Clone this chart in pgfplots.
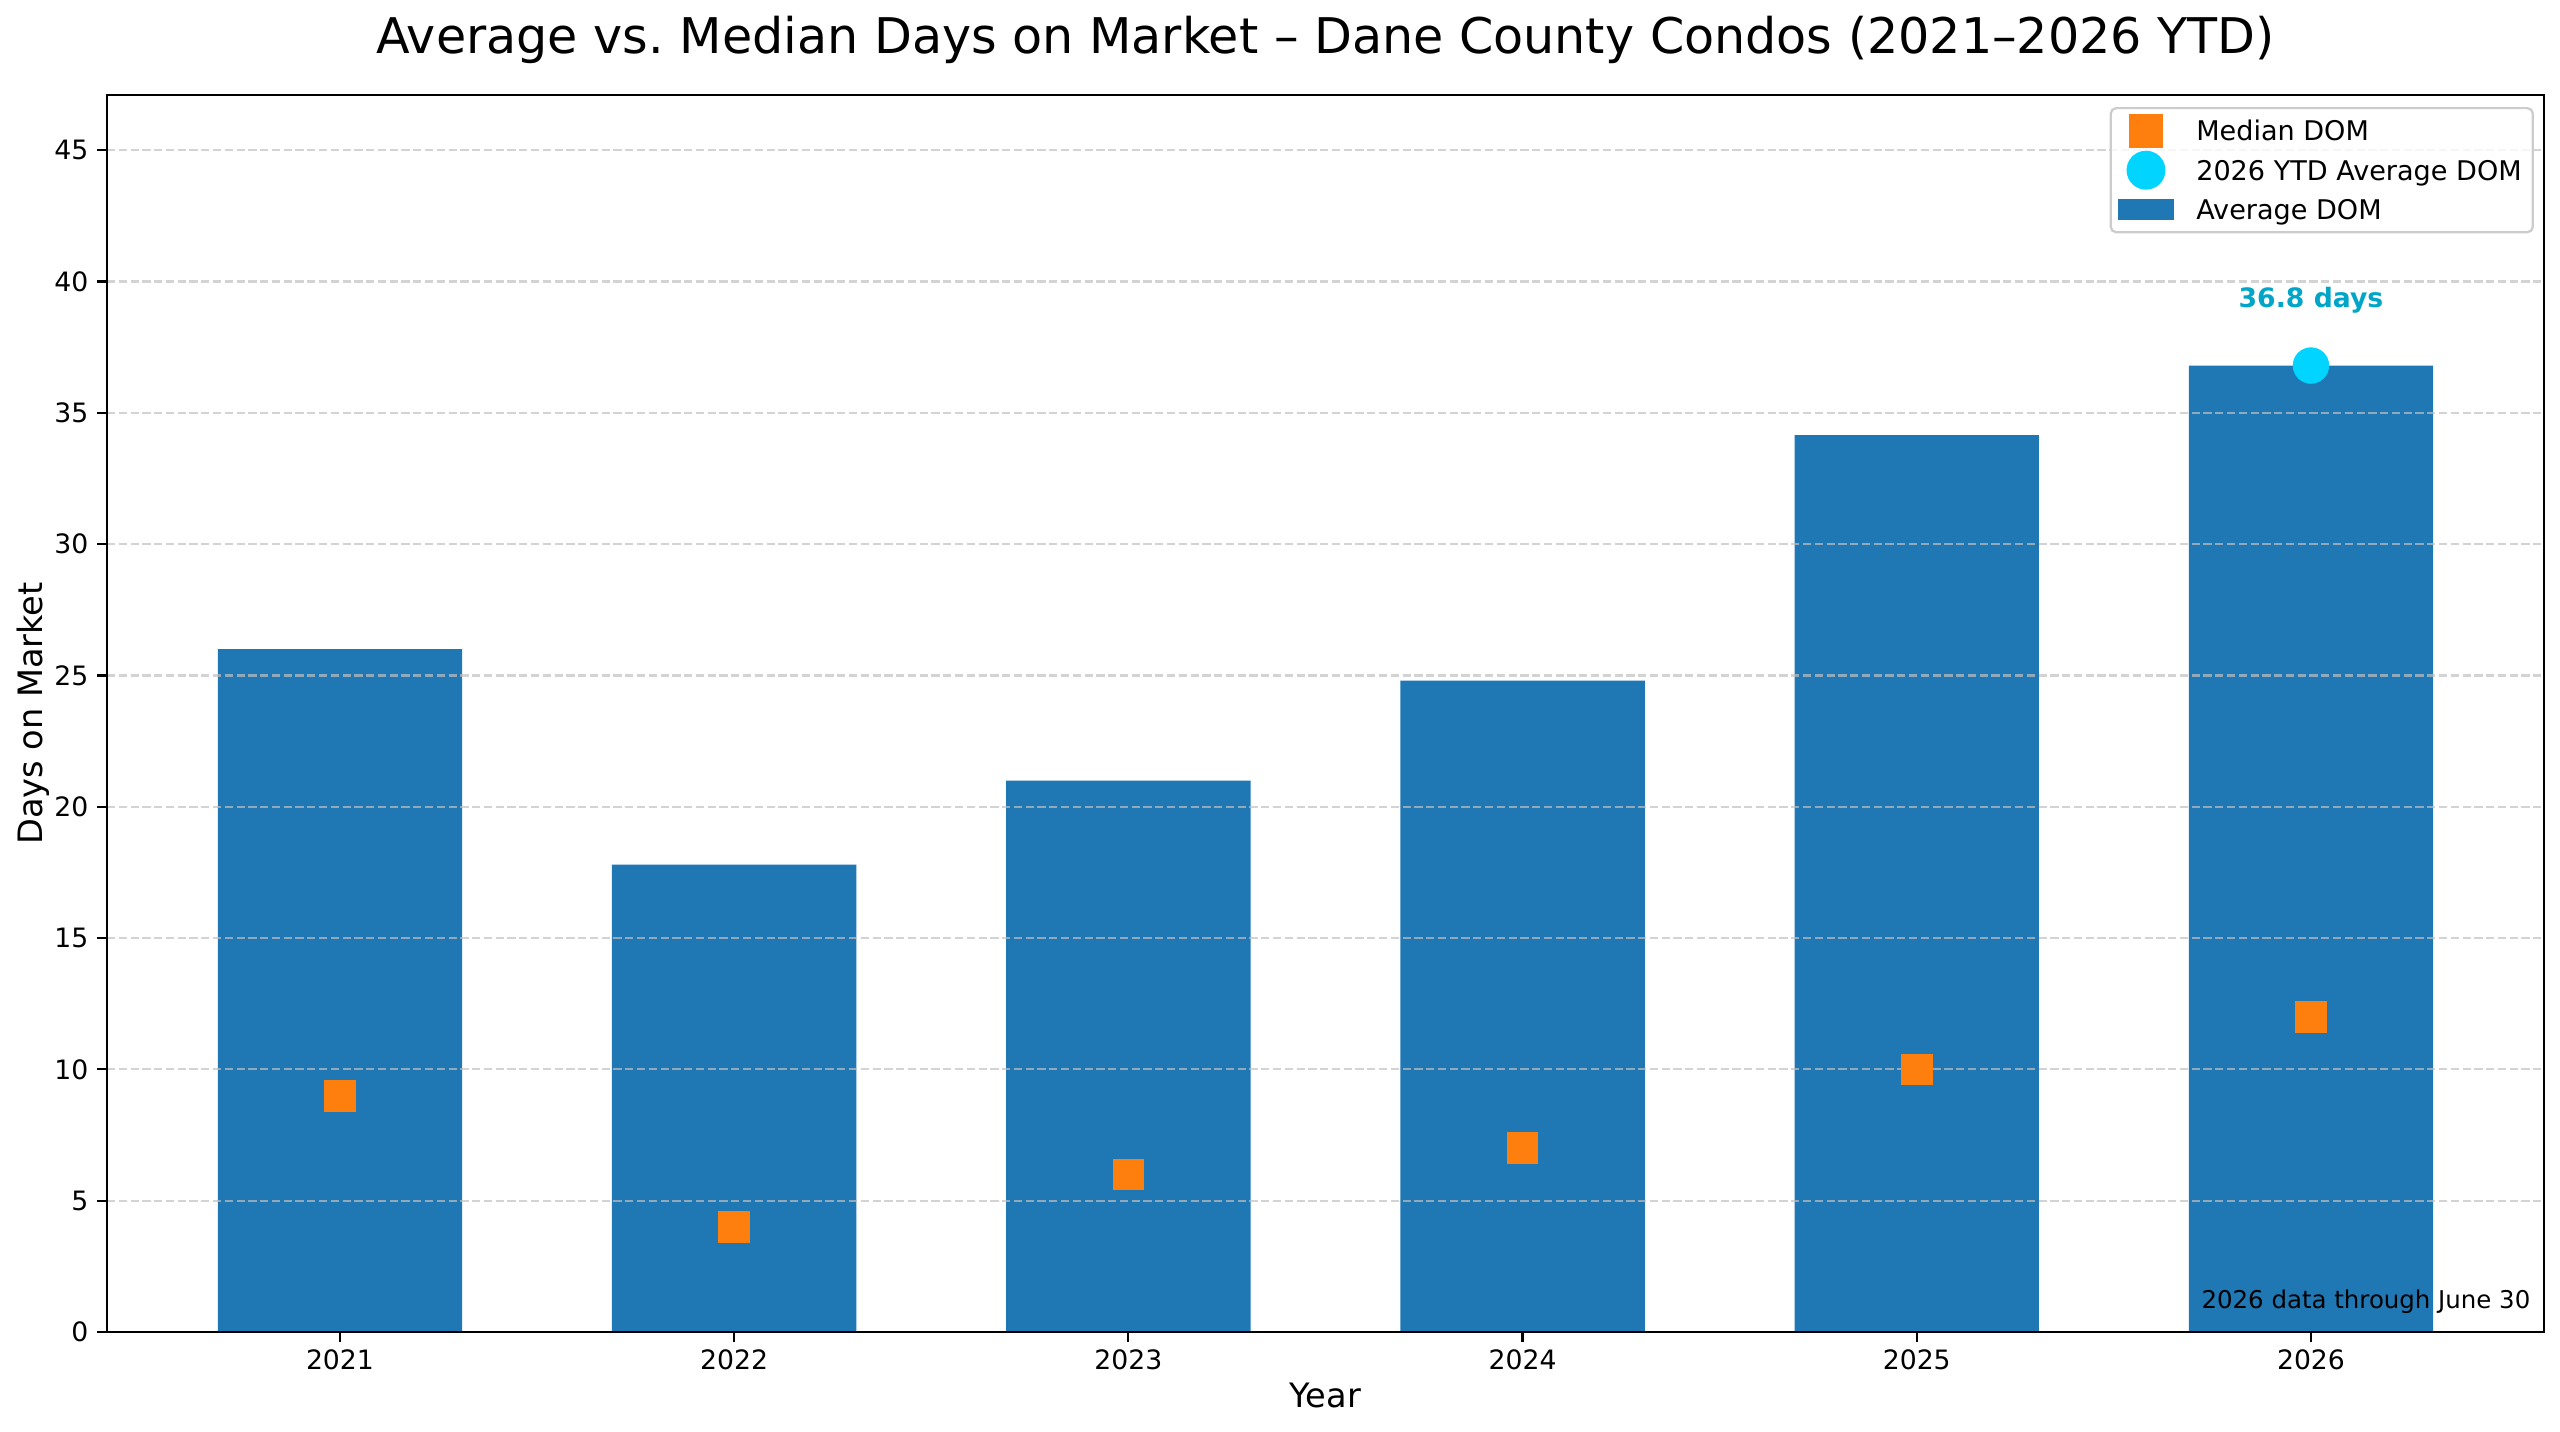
\documentclass[border=0pt]{standalone}
\usepackage{pgfplots}
\pgfplotsset{compat=1.18}
\usepackage{fontspec}
\setmainfont{DejaVu Sans}
\definecolor{barblue}{HTML}{1F77B4}
\definecolor{medorange}{HTML}{FF7F0E}
\definecolor{ytdcyan}{HTML}{00D4FF}
\definecolor{anncyan}{HTML}{00A5C8}
\definecolor{gridgray}{HTML}{C0C0C0}
\definecolor{legframe}{HTML}{CCCCCC}

\begin{document}
\begin{tikzpicture}
\begin{axis}[
  set layers=standard,
  at={(0,0)}, anchor=south west,
  scale only axis, width=877.3pt, height=445.3pt,
  xmin=-0.591, xmax=5.591, ymin=0, ymax=47.1,
  xtick={0,1,2,3,4,5},
  xticklabels={2021,2022,2023,2024,2025,2026},
  ytick={0,5,...,45},
  tick align=outside, xtick pos=bottom, ytick pos=left,
  major tick length=3.5pt,
  tick style={black, line width=0.8pt},
  axis line style={line width=0.8pt},
  ymajorgrids,
  major grid style={gridgray, opacity=0.7, dash pattern=on 2.96pt off 1.28pt, line width=0.8pt},
  /pgf/number format/assume math mode=true,
  ticklabel style={font=\fontsize{9.6}{11}\selectfont},
  xticklabel style={inner sep=0pt, anchor=north, yshift=-2.6pt},
  yticklabel style={inner sep=0pt, anchor=east, xshift=-3pt},
  clip=false,
  legend style={at={(1,1)}, anchor=north east, xshift=-3.6pt, yshift=-4.3pt,
    draw=legframe, line width=0.8pt, rounded corners=2pt, fill=white, fill opacity=0.8,
    draw opacity=1, text opacity=1,
    font=\fontsize{9.75}{11}\selectfont, inner xsep=3pt, inner ysep=2.1pt,
    row sep=2.1pt, column sep=7.4pt,
    nodes={inner sep=1pt, text height=8.6pt, text depth=1.5pt, anchor=west}},
  legend cell align=left,
]
\addplot[ybar, bar width=0.62, fill=barblue, draw=none, forget plot, on layer=axis background]
  coordinates {(0,26.0) (1,17.8) (2,21.0) (3,24.8) (4,34.15) (5,36.8)};
\addplot[only marks, mark=square*, mark size=5.5pt,
  mark options={fill=medorange, draw=medorange, line width=0.3pt}, forget plot]
  coordinates {(0,9) (1,4) (2,6) (3,7) (4,10) (5,12)};
\addplot[only marks, mark=*, mark size=6.4pt,
  mark options={fill=ytdcyan, draw=ytdcyan, line width=0.3pt}, forget plot]
  coordinates {(5,36.8)};

\addlegendimage{legend image code/.code={%
  \path[draw=none, fill=none] (0pt,0pt) -- (19.4pt,0pt);
  \fill[medorange, overlay, sharp corners, fill opacity=1] (4pt,-5.7pt) rectangle (15.4pt,5.7pt);}}
\addlegendentry{Median DOM}
\addlegendimage{legend image code/.code={%
  \path[draw=none, fill=none] (0pt,0pt) -- (19.4pt,0pt);
  \fill[ytdcyan, overlay, fill opacity=1] (9.7pt,0pt) circle (6.6pt);}}
\addlegendentry{2026 YTD Average DOM}
\addlegendimage{legend image code/.code={%
  \path[draw=none, fill=none] (0pt,0pt) -- (19.4pt,0pt);
  \fill[barblue, overlay, sharp corners, fill opacity=1] (0pt,-3.4pt) rectangle (19.4pt,3.4pt);}}
\addlegendentry{Average DOM}

\node[anchor=base, inner sep=0pt, font=\bfseries\fontsize{9.6}{11}\selectfont, text=anncyan]
  at (axis cs:5,39.0) {36.8 days};
\node[anchor=base east, inner sep=0pt, font=\fontsize{8.8}{10}\selectfont]
  at ([xshift=-4.7pt, yshift=8.3pt]rel axis cs:1,0) {2026 data through June 30};
\node[anchor=base, inner sep=0pt, font=\fontsize{17.7}{20}\selectfont]
  at ([yshift=14.8pt]rel axis cs:0.5,1) {Average vs.\ Median Days on Market – Dane County Condos (2021–2026 YTD)};
\node[anchor=base, inner sep=0pt, font=\fontsize{12.1}{14}\selectfont]
  at ([yshift=-27pt]rel axis cs:0.5,0) {Year};
\node[anchor=base, rotate=90, inner sep=0pt, font=\fontsize{12.1}{14}\selectfont]
  at ([xshift=-23.4pt]rel axis cs:0,0.5) {Days on Market};
\end{axis}
\pgfresetboundingbox
\useasboundingbox (-38.52pt,-35.64pt) rectangle (883.08pt,479.52pt);
\end{tikzpicture}
\end{document}
